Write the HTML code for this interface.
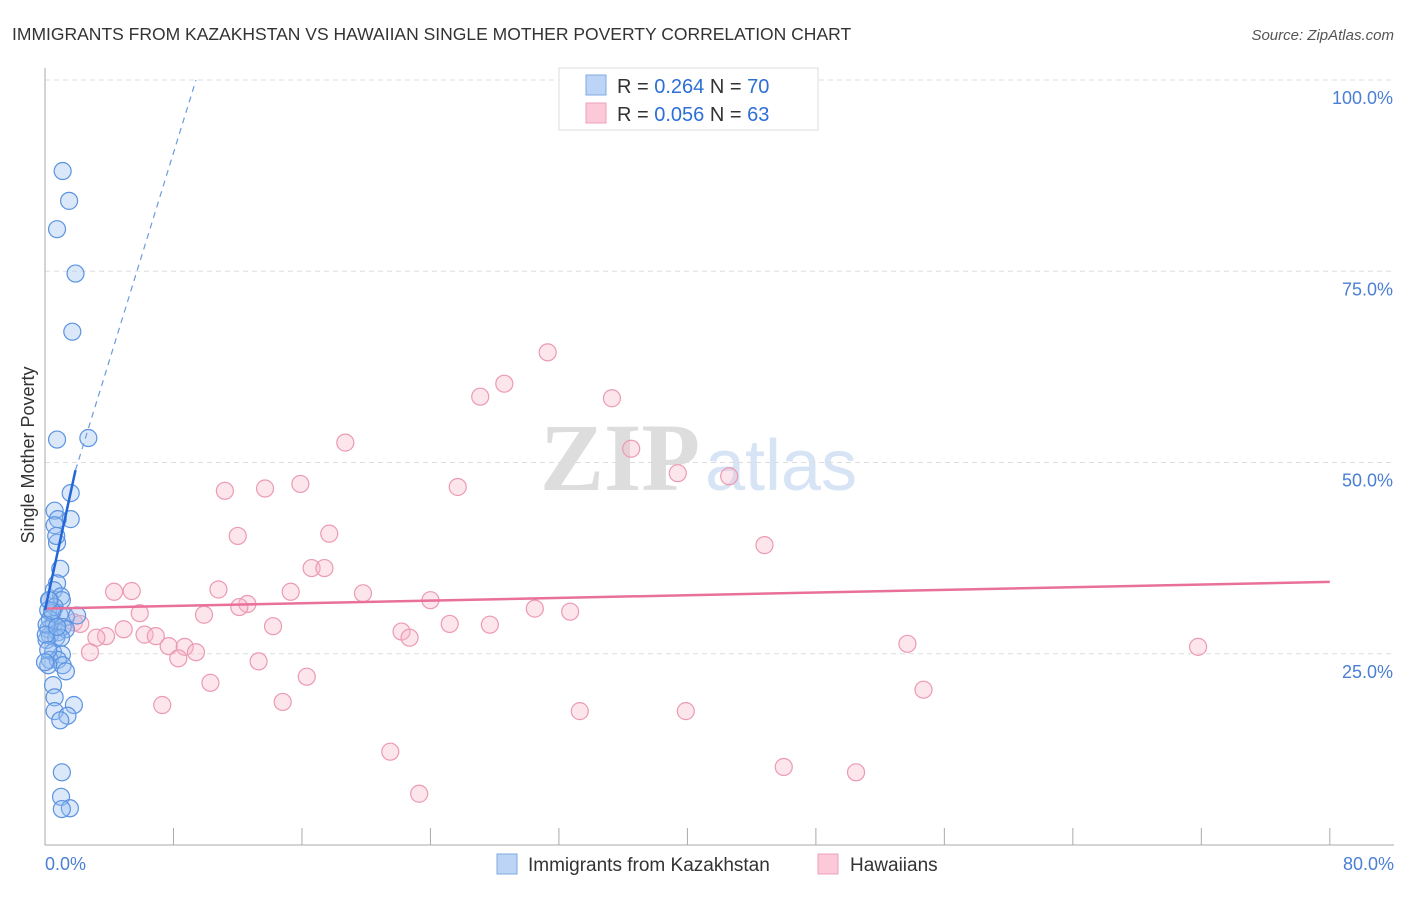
<!DOCTYPE html>
<html><head><meta charset="utf-8"><style>
body{margin:0;background:#fff;font-family:"Liberation Sans",sans-serif;}
#c{position:relative;width:1406px;height:892px;}
</style></head><body>
<div id="c">
<svg id="s" width="1406" height="892" xmlns="http://www.w3.org/2000/svg">
<text x="12" y="40" font-size="17.5" fill="#333">IMMIGRANTS FROM KAZAKHSTAN VS HAWAIIAN SINGLE MOTHER POVERTY CORRELATION CHART</text>
<text x="1394" y="40" font-size="15" fill="#555" text-anchor="end" font-style="italic">Source: ZipAtlas.com</text>
<text x="700" y="490" font-size="96" fill="#ddd" text-anchor="end" font-family="Liberation Serif" font-weight="bold">ZIP</text>
<text x="705" y="490" font-size="72" fill="#d6e4f5">atlas</text>
<text transform="translate(34,455) rotate(-90)" font-size="18" fill="#333" text-anchor="middle">Single Mother Poverty</text>
<g id="grid"></g><g id="axes"></g><g id="pts"></g><g id="lines"></g>
<g>
<rect x="559" y="68" width="259" height="62" fill="#fff" stroke="#ddd"/>
<rect x="586" y="75" width="20" height="20" fill="#bcd5f7" stroke="#7fa8e0"/>
<rect x="586" y="103" width="20" height="20" fill="#fbc9d8" stroke="#eea1b8"/>
<text x="617" y="93" font-size="20" fill="#333">R = <tspan fill="#2d6fd6">0.264</tspan>   N = <tspan fill="#2d6fd6">70</tspan></text>
<text x="617" y="121" font-size="20" fill="#333">R = <tspan fill="#2d6fd6">0.056</tspan>   N = <tspan fill="#2d6fd6">63</tspan></text>
</g>
<g>
<rect x="497" y="854" width="20" height="20" fill="#bcd5f7" stroke="#7fa8e0"/>
<text x="528" y="871" font-size="19" fill="#333">Immigrants from Kazakhstan</text>
<rect x="818" y="854" width="20" height="20" fill="#fbc9d8" stroke="#eea1b8"/>
<text x="850" y="871" font-size="19" fill="#333">Hawaiians</text>
</g>
</svg></div>
<script>
const blueX=[1.1,1.5,0.75,1.9,1.7,0.75,2.7,1.6,0.6,0.8,1.6,0.6,0.75,0.7,0.95,0.75,0.55,1.0,0.3,1.05,0.6,0.2,0.45,0.9,1.3,2.0,0.3,0.55,1.1,0.2,0.8,1.3,0.3,0.7,1.0,0.1,0.5,1.05,0.3,0.8,1.1,0.2,1.3,0.5,0.6,1.8,0.6,1.4,0.95,1.05,1.0,1.55,1.05,0.1,0.05,0.2,0.45,0.75,0.0,0.25];
const blueY=[88.1,84.2,80.5,74.7,67.1,53.0,53.2,46.0,43.7,42.6,42.6,41.8,39.5,40.4,36.1,34.2,33.3,32.5,32.0,32.0,31.1,30.7,30.3,30.1,29.8,30.0,29.5,28.9,28.5,28.2,27.8,28.2,27.4,27.1,27.1,26.8,25.2,24.9,24.2,24.2,23.5,23.5,22.7,20.9,19.3,18.3,17.5,16.9,16.3,9.5,6.3,4.8,4.7,28.8,27.5,25.5,30.6,28.5,23.9,32.0];
const pinkX=[31.3,28.6,27.1,35.3,18.7,36.5,39.4,42.6,11.2,13.7,15.9,25.7,17.7,12.0,44.8,16.6,17.4,10.8,15.3,19.8,4.3,5.4,24.0,12.6,12.1,5.9,9.9,30.5,32.7,1.8,2.2,25.2,27.7,14.2,22.2,4.9,6.2,6.9,22.7,3.8,3.2,7.7,8.7,9.4,8.3,2.8,13.3,53.7,71.8,16.3,10.3,54.7,14.8,7.3,33.3,39.9,21.5,46.0,50.5,23.3];
const pinkY=[64.4,60.3,58.6,58.4,52.6,51.8,48.6,48.2,46.3,46.6,47.2,46.8,40.7,40.4,39.2,36.2,36.2,33.4,33.1,32.9,33.1,33.2,32.0,31.5,31.1,30.3,30.1,30.9,30.5,29.1,28.9,28.9,28.8,28.6,27.9,28.2,27.5,27.3,27.1,27.3,27.1,26.0,25.9,25.2,24.4,25.2,24.0,26.3,25.9,22.0,21.2,20.3,18.7,18.3,17.5,17.5,12.2,10.2,9.5,6.7];
const xTicks=[0,8,16,24,32,40,48,56,64,72,80];
const yTicks=[25,50,75,100];
const blueFit=[0,1.9,30.7,49.0];   // x0,x1,y0,y1 solid
const blueDash=[1.9,9.4,49.0,100];
const pinkFit=[0,80,30.9,34.4];
const X=v=>45+v*16.06, Y=v=>845-v*7.65;
const NS="http://www.w3.org/2000/svg";
function mk(t,a,p){const e=document.createElementNS(NS,t);for(const k in a)e.setAttribute(k,a[k]);p.appendChild(e);return e;}
const grid=document.getElementById('grid'),axes=document.getElementById('axes'),pts=document.getElementById('pts'),lines=document.getElementById('lines');
yTicks.forEach(v=>{const l=mk('line',{x1:45,x2:1394,y1:Y(v),y2:Y(v),stroke:'#ddd','stroke-dasharray':'5,4'},grid);


const t=mk('text',{x:1393,y:Y(v)+24,'font-size':18,fill:'#4a7fd4','text-anchor':'end'},axes);t.textContent=v.toFixed(1)+'%';

});
const ax=mk('line',{x1:45,x2:45,y1:68,y2:845,stroke:'#aaa'},axes);


const bx=mk('line',{x1:45,x2:1394,y1:845,y2:845,stroke:'#aaa'},axes);


xTicks.forEach(v=>{const l=mk('line',{x1:X(v),x2:X(v),y1:828,y2:845,stroke:'#aaa'},axes);

});
[[0,'start',45],[80,'end',1394]].forEach(([v,a,x])=>{const t=mk('text',{x:x,y:870,'font-size':18,fill:'#4a7fd4','text-anchor':a},axes);t.textContent=v.toFixed(1)+'%';

});
pinkX.forEach((v,i)=>{const c=mk('circle',{cx:X(v),cy:Y(pinkY[i]),r:8.5,fill:'rgba(248,180,200,0.35)',stroke:'#eb9ab4','stroke-width':1.2},pts);

});
blueX.forEach((v,i)=>{const c=mk('circle',{cx:X(v),cy:Y(blueY[i]),r:8.5,fill:'rgba(150,190,240,0.35)',stroke:'#5b93e0','stroke-width':1.2},pts);

});
let l=mk('line',{x1:X(pinkFit[0]),x2:X(pinkFit[1]),y1:Y(pinkFit[2]),y2:Y(pinkFit[3]),stroke:'#e8709a','stroke-width':2.5},lines);


l=mk('line',{x1:X(blueFit[0]),x2:X(blueFit[1]),y1:Y(blueFit[2]),y2:Y(blueFit[3]),stroke:'#2466d6','stroke-width':2.5},lines);


l=mk('line',{x1:X(blueDash[0]),x2:X(blueDash[1]),y1:Y(blueDash[2]),y2:Y(blueDash[3]),stroke:'#6a9be0','stroke-width':1.2,'stroke-dasharray':'6,5'},lines);


</script></body></html>
